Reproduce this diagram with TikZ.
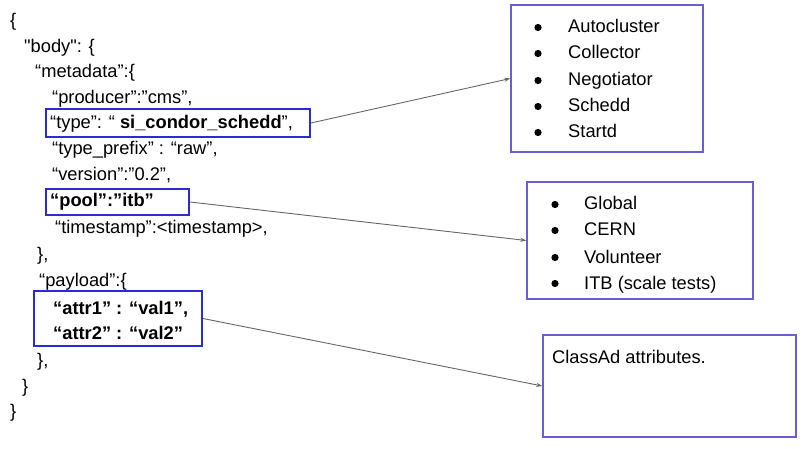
\documentclass[tikz,border=0pt]{standalone}
\usepackage{fontspec}
\setmainfont{Liberation Sans}[Ligatures=TeXOff]
\usetikzlibrary{arrows.meta}
\definecolor{hlblue}{HTML}{2B2BD2}
\definecolor{listblue}{HTML}{6A5ED4}
\definecolor{linkgray}{HTML}{666666}
\tikzset{
  code/.style={anchor=base west, inner sep=0pt, font=\fontsize{18.3}{21}\selectfont},
  item/.style={anchor=base west, inner sep=0pt, font=\fontsize{18.3}{21}\selectfont},
  hlbox/.style={draw=hlblue, line width=1.9pt, inner sep=0pt},
  listbox/.style={draw=listblue, line width=1.4pt, inner sep=0pt},
  link/.style={draw=linkgray, line width=0.9pt, -{Stealth[length=6pt,width=4pt]}},
  dot/.style={fill=black}
}
\begin{document}
\begin{tikzpicture}[x=1pt, y=-1pt]
  \useasboundingbox (0,0) rectangle (806,449);

  % JSON document
  \node[code] (c1)  at (10,27)  {\{};
  \node[code] (c2)  at (24,53)  {"body": \{};
  \node[code] (c3)  at (35,78)  {“metadata”:\{};
  \node[code] (c4)  at (52,104) {“producer”:”cms”,};
  \node[code] (c5)  at (50,129) {“type”: “ \textbf{si\_condor\_schedd}”,};
  \node[code] (c6)  at (52,155) {“type\_prefix” : “raw”,};
  \node[code] (c7)  at (52,181) {“version”:”0.2”,};
  \node[code] (c8)  at (50,207) {\textbf{“pool”:”itb”}};
  \node[code] (c9)  at (55,234) {“timestamp”:<timestamp>,};
  \node[code] (c10) at (37,261) {\},};
  \node[code] (c11) at (39,287) {“payload”:\{};
  \node[code] (c12) at (53,314) {\textbf{“attr1” : “val1”,}};
  \node[code] (c13) at (53,339) {\textbf{“attr2” : “val2”}};
  \node[code] (c14) at (37,366) {\},};
  \node[code] (c15) at (22,392) {\}};
  \node[code] (c16) at (10,417) {\}};

  % highlighted fields
  \node[hlbox, minimum width=264pt, minimum height=28pt] (typebox) at (178,123) {};
  \node[hlbox, minimum width=143pt, minimum height=26pt] (poolbox) at (117.5,202) {};
  \node[hlbox, minimum width=168pt, minimum height=55pt] (attrbox) at (118,318.5) {};

  % value lists
  \node[listbox, minimum width=192pt, minimum height=147pt] (typelist) at (607,78.5) {};
  \node[listbox, minimum width=226pt, minimum height=117pt] (poollist) at (640,240.5) {};
  \node[listbox, minimum width=253pt, minimum height=102pt] (attrlist) at (669.5,386) {};

  \foreach \name/\txt/\y in {t1/Autocluster/33, t2/Collector/59, t3/Negotiator/86, t4/Schedd/112, t5/Startd/138} {
    \fill[dot] (538,\y-5.5) circle (3.6pt);
    \node[item] (\name) at (568,\y) {\txt};
  }
  \foreach \name/\txt/\y in {p1/Global/210, p2/CERN/236, p3/Volunteer/263, p4/ITB (scale tests)/289} {
    \fill[dot] (555,\y-5.5) circle (3.6pt);
    \node[item] (\name) at (584,\y) {\txt};
  }
  \node[item] (a1) at (552,363) {ClassAd attributes.};

  % connectors
  \draw[link] (typebox.east) -- (typelist.west);
  \draw[link] (poolbox.east) -- (poollist.west);
  \draw[link] (attrbox.east) -- (attrlist.west);
\end{tikzpicture}
\end{document}
